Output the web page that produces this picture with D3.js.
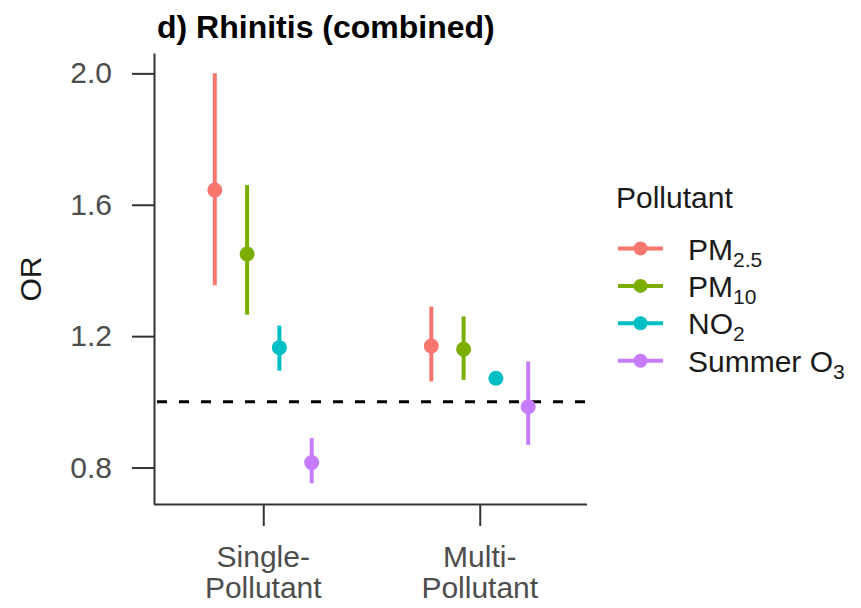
<!DOCTYPE html>
<html>
<head>
<meta charset="utf-8">
<script src="https://cdn.jsdelivr.net/npm/d3@7"></script>
<style>
  body { margin: 0; background: #fff; }
  svg { display: block; font-family: "Liberation Sans", Arial, sans-serif; }
</style>
</head>
<body>
<svg id="chart" width="861" height="608"></svg>
<script>
// values
const models = ["Single-Pollutant", "Multi-Pollutant"]
const modelLabels = [["Single-", "Pollutant"], ["Multi-", "Pollutant"]]
const pollutants = ["PM2.5", "PM10", "NO2", "Summer O3"]
const legendMain = ["PM", "PM", "NO", "Summer O"]
const legendSub = ["2.5", "10", "2", "3"]
const orSingle = [1.645, 1.45, 1.165, 0.815]
const lowSingle = [1.355, 1.265, 1.095, 0.752]
const highSingle = [2.0, 1.66, 1.232, 0.89]
const orMulti = [1.17, 1.16, 1.072, 0.985]
const lowMulti = [1.062, 1.067, 1.062, 0.869]
const highMulti = [1.29, 1.26, 1.085, 1.123]
const yTicks = [0.8, 1.2, 1.6, 2.0]
const refValue = 1.0
const colors = ["#F8766D", "#7CAE00", "#00BFC4", "#C77CFF"]

const rows = []
pollutants.forEach((p, i) => {
    rows.push({model: models[0], pollutant: p, or: orSingle[i], lo: lowSingle[i], hi: highSingle[i]})
    rows.push({model: models[1], pollutant: p, or: orMulti[i], lo: lowMulti[i], hi: highMulti[i]})
})

const svg = d3.select("#chart")
const plotLeft = 154, plotRight = 587, plotTop = 53, plotBottom = 504

const x = d3.scalePoint().domain(models).range([plotLeft + 1, plotRight + 1]).padding(0.5)
const dodge = d3.scaleBand().domain(pollutants).range([-64.6, 64.6])
const y = d3.scaleLinear().domain([0.689, 2.062]).range([plotBottom, plotTop])
const color = d3.scaleOrdinal().domain(pollutants).range(colors)

// title
svg.append("text")
    .attr("x", 157).attr("y", 38)
    .attr("font-size", 32).attr("font-weight", "bold").attr("fill", "#000")
    .text("d) Rhinitis (combined)")

// y axis
const yAxis = svg.append("g")
    .attr("transform", `translate(${plotLeft},0)`)
    .call(d3.axisLeft(y).tickValues(yTicks).tickFormat(d3.format(".1f")).tickSize(22).tickSizeOuter(0).tickPadding(20))
yAxis.selectAll("text").attr("font-size", 30).attr("fill", "#4D4D4D").attr("font-family", "Liberation Sans, Arial, sans-serif")

// x axis
const xAxis = svg.append("g")
    .attr("transform", `translate(0,${plotBottom})`)
    .call(d3.axisBottom(x).tickSize(22).tickSizeOuter(0).tickFormat(""))
xAxis.select(".domain").attr("d", `M${plotLeft},0.5H${plotRight}`)

svg.selectAll(".domain, .tick line").attr("stroke", "#333").attr("stroke-width", 2)

// two-line category labels, one text per line
const xl = svg.append("g")
models.forEach((m, i) => {
    modelLabels[i].forEach((line, j) => {
        xl.append("text")
            .attr("x", x(m)).attr("y", 567 + j * 31)
            .attr("text-anchor", "middle")
            .attr("font-size", 30).attr("fill", "#4D4D4D")
            .text(line)
    })
})

// y label
svg.append("text")
    .attr("transform", "translate(41,279) rotate(-90)")
    .attr("text-anchor", "middle")
    .attr("font-size", 30).attr("fill", "#1a1a1a")
    .text("OR")

// reference line
svg.append("line")
    .attr("x1", plotLeft + 3).attr("x2", plotRight)
    .attr("y1", y(refValue)).attr("y2", y(refValue))
    .attr("stroke", "#000").attr("stroke-width", 3)
    .attr("stroke-dasharray", "10,12")

// error bars + points
const marks = svg.append("g")
marks.selectAll("line.ci")
    .data(rows)
    .join("line")
    .attr("class", "ci")
    .attr("x1", d => x(d.model) + dodge(d.pollutant) + dodge.bandwidth() / 2)
    .attr("x2", d => x(d.model) + dodge(d.pollutant) + dodge.bandwidth() / 2)
    .attr("y1", d => y(d.lo))
    .attr("y2", d => y(d.hi))
    .attr("stroke", d => color(d.pollutant))
    .attr("stroke-width", 4)

marks.selectAll("circle")
    .data(rows)
    .join("circle")
    .attr("cx", d => x(d.model) + dodge(d.pollutant) + dodge.bandwidth() / 2)
    .attr("cy", d => y(d.or))
    .attr("r", 7.5)
    .attr("fill", d => color(d.pollutant))

// legend
const legend = svg.append("g")
legend.append("text")
    .attr("x", 616).attr("y", 208)
    .attr("font-size", 30).attr("fill", "#1a1a1a")
    .text("Pollutant")

const items = legend.selectAll("g.item")
    .data(pollutants)
    .join("g")
    .attr("class", "item")
    .attr("transform", (d, i) => `translate(0,${248.5 + i * 37.4})`)

items.append("line")
    .attr("x1", 618).attr("x2", 663)
    .attr("stroke", d => color(d)).attr("stroke-width", 4)
items.append("circle")
    .attr("cx", 640.5).attr("r", 7)
    .attr("fill", d => color(d))

const labels = items.append("text")
    .attr("x", 688).attr("y", 11)
    .attr("font-size", 30).attr("fill", "#1a1a1a")
labels.append("tspan").text((d, i) => legendMain[i])
labels.append("tspan")
    .attr("font-size", 21).attr("dy", 7)
    .text((d, i) => legendSub[i])
</script>
</body>
</html>
